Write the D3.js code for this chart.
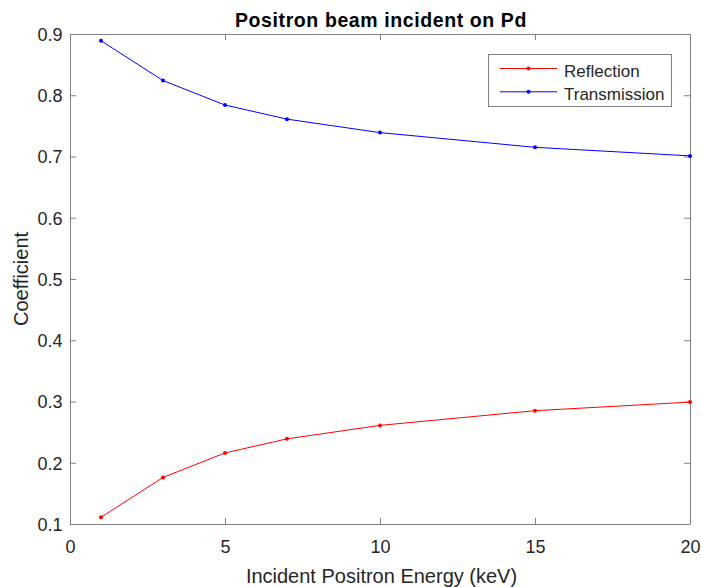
<!DOCTYPE html>
<head>
  <meta charset="utf-8">
  <style>
    body { margin: 0; background: #fff; }
    svg text { font-family: "Liberation Sans", Arial, sans-serif; fill: #262626; }
    svg .tick text { font-size: 18px; fill: #262626; }
    svg .domain, svg .tick line { stroke: #808080; }
  </style>
</head>
<body>
<script src="https://d3js.org/d3.v7.min.js"></script>
<script>
  // chart data
  var energy = [1, 3, 5, 7, 10, 15, 20];
  var reflection = [0.111, 0.176, 0.216, 0.239, 0.261, 0.285, 0.299];
  var transmission = [0.889, 0.824, 0.784, 0.761, 0.739, 0.715, 0.701];
  var xTicks = [0, 5, 10, 15, 20];
  var yTicks = [0.1, 0.2, 0.3, 0.4, 0.5, 0.6, 0.7, 0.8, 0.9];
  var seriesNames = ["Reflection", "Transmission"];
  var seriesColors = ["#ff0000", "#0000ff"];

  var W = 701, H = 587;
  var pLeft = 70, pRight = 690, pTop = 34, pBottom = 524;

  var svg = d3.select("body").append("svg")
      .attr("width", W)
      .attr("height", H);

  var x = d3.scaleLinear().domain([0, 20]).range([pLeft, pRight]);
  var y = d3.scaleLinear().domain([0.1, 0.9]).range([pBottom, pTop]);

  // axes, MATLAB style: ticks inside, box all round
  svg.append("g")
      .attr("transform", "translate(0," + pBottom + ")")
      .call(d3.axisBottom(x).tickValues(xTicks).tickSize(-6).tickSizeOuter(0))
      .call(function (g) { g.selectAll(".tick text").attr("y", 29).attr("dy", 0); });

  svg.append("g")
      .attr("transform", "translate(0," + pTop + ")")
      .call(d3.axisTop(x).tickValues(xTicks).tickSize(-6).tickSizeOuter(0).tickFormat(""));

  svg.append("g")
      .attr("transform", "translate(" + pLeft + ",0)")
      .call(d3.axisLeft(y).tickValues(yTicks).tickSize(-6).tickSizeOuter(0).tickPadding(7.5)
        .tickFormat(d3.format(".1f")))
      .call(function (g) { g.selectAll(".tick text").attr("dy", "0.36em"); });

  svg.append("g")
      .attr("transform", "translate(" + pRight + ",0)")
      .call(d3.axisRight(y).tickValues(yTicks).tickSize(-6).tickSizeOuter(0).tickFormat(""));

  svg.selectAll(".domain").attr("stroke-width", 1);

  // series
  var seriesData = [reflection, transmission];
  var line = d3.line()
    .x(function (d, i) { return x(energy[i]); })
    .y(function (d) { return y(d); });

  seriesData.forEach(function (vals, k) {
    svg.append("path")
        .attr("d", line(vals))
        .attr("fill", "none")
        .attr("stroke", seriesColors[k])
        .attr("stroke-width", 1);
    svg.selectAll(null)
      .data(vals)
      .enter().append("circle")
        .attr("cx", function (d, i) { return x(energy[i]); })
        .attr("cy", function (d) { return y(d); })
        .attr("r", 2)
        .attr("fill", seriesColors[k]);
  });

  // title and labels
  svg.append("text")
      .attr("x", 381)
      .attr("y", 26.5)
      .attr("text-anchor", "middle")
      .style("font-size", "19.5px")
      .style("letter-spacing", "0.6px")
      .style("font-weight", "bold")
      .style("fill", "#000")
      .text("Positron beam incident on Pd");

  svg.append("text")
      .attr("x", 381.5)
      .attr("y", 583)
      .attr("text-anchor", "middle")
      .style("font-size", "20px")
      .text("Incident Positron Energy (keV)");

  svg.append("text")
      .attr("transform", "translate(27.5,279) rotate(-90)")
      .attr("text-anchor", "middle")
      .style("font-size", "20px")
      .text("Coefficient");

  // legend
  var leg = svg.append("g");
  leg.append("rect")
      .attr("x", 488.5).attr("y", 54.5)
      .attr("width", 183).attr("height", 52)
      .attr("fill", "#fff")
      .attr("stroke", "#808080");

  seriesNames.forEach(function (name, k) {
    var ly = 68.5 + k * 23.3;
    leg.append("line")
        .attr("x1", 500).attr("x2", 557)
        .attr("y1", ly).attr("y2", ly)
        .attr("stroke", seriesColors[k]);
    leg.append("circle")
        .attr("cx", 528.5).attr("cy", ly).attr("r", 2)
        .attr("fill", seriesColors[k]);
    leg.append("text")
        .attr("x", 564).attr("y", ly + 8.5)
        .style("font-size", "17px")
        .text(name);
  });
</script>
</body>
</html>
